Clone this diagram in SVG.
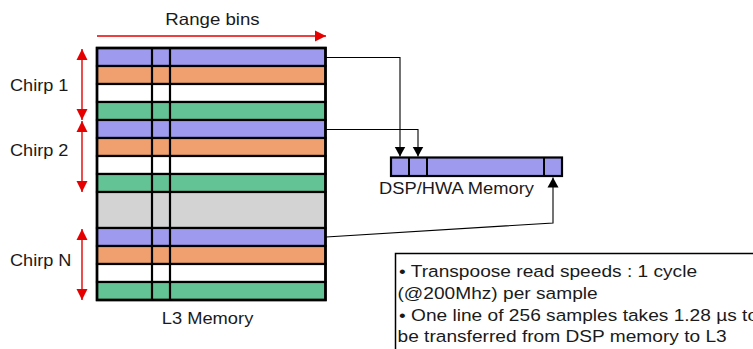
<svg xmlns="http://www.w3.org/2000/svg" width="753" height="349" viewBox="0 0 753 349">
  <style>
    .lbl { font-family: "Liberation Sans", Arial, sans-serif; font-size: 16.5px; fill: #1a1a1a; }
    .row { stroke: #000; stroke-width: 2.2; }
    .pur { fill: #9e9bef; }
    .org { fill: #efa06e; }
    .wht { fill: #ffffff; }
    .grn { fill: #64c394; }
    .gry { fill: #d3d3d3; }
    .red { stroke: #e60000; stroke-width: 1.4; fill: none; }
    .conn { stroke: #000; stroke-width: 1.1; fill: none; }
  </style>
  <defs>
    <marker id="redHead" markerUnits="userSpaceOnUse" markerWidth="12" markerHeight="12" refX="11" refY="6" orient="auto-start-reverse">
      <path d="M0,0.5 L11,6 L0,11.5 z" fill="#e60000"/>
    </marker>
    <marker id="blkHead" markerUnits="userSpaceOnUse" markerWidth="12" markerHeight="12" refX="10" refY="6" orient="auto">
      <path d="M0,0.5 L10,6 L0,11.5 z" fill="#000"/>
    </marker>
  </defs>

  <rect width="753" height="349" fill="#fff"/>

  <!-- range bins axis -->
  <g id="range-bins">
    <line class="red" x1="97" y1="36" x2="326" y2="36" marker-end="url(#redHead)"/>
    <text class="lbl" text-anchor="middle" transform="translate(212.5,25) scale(1.13,1)">Range bins</text>
  </g>

  <!-- chirp extents -->
  <g id="chirp-1">
    <line class="red" x1="82" y1="49" x2="82" y2="120" marker-start="url(#redHead)" marker-end="url(#redHead)"/>
    <text class="lbl" transform="translate(10,91) scale(1.1,1)">Chirp 1</text>
  </g>
  <g id="chirp-2">
    <line class="red" x1="82" y1="121" x2="82" y2="192" marker-start="url(#redHead)" marker-end="url(#redHead)"/>
    <text class="lbl" transform="translate(10,156) scale(1.1,1)">Chirp 2</text>
  </g>
  <g id="chirp-n">
    <line class="red" x1="82" y1="229" x2="82" y2="300" marker-start="url(#redHead)" marker-end="url(#redHead)"/>
    <text class="lbl" transform="translate(10,266) scale(1.1,1)">Chirp N</text>
  </g>

  <!-- L3 memory: one row per antenna line -->
  <g id="l3-memory">
    <rect class="row pur" x="97" y="48" width="228.5" height="18"/>
    <rect class="row org" x="97" y="66" width="228.5" height="18"/>
    <rect class="row wht" x="97" y="84" width="228.5" height="18"/>
    <rect class="row grn" x="97" y="102" width="228.5" height="18"/>
    <rect class="row pur" x="97" y="120" width="228.5" height="18"/>
    <rect class="row org" x="97" y="138" width="228.5" height="18"/>
    <rect class="row wht" x="97" y="156" width="228.5" height="18"/>
    <rect class="row grn" x="97" y="174" width="228.5" height="18"/>
    <rect class="row gry" x="97" y="192" width="228.5" height="36"/>
    <rect class="row pur" x="97" y="228" width="228.5" height="18"/>
    <rect class="row org" x="97" y="246" width="228.5" height="18"/>
    <rect class="row wht" x="97" y="264" width="228.5" height="18"/>
    <rect class="row grn" x="97" y="282" width="228.5" height="18"/>
    <line x1="152" y1="48" x2="152" y2="300" stroke="#000" stroke-width="2.2"/>
    <line x1="170" y1="48" x2="170" y2="300" stroke="#000" stroke-width="2.2"/>
    <rect x="97" y="48" width="228.5" height="252" fill="none" stroke="#000" stroke-width="2.6"/>
    <text class="lbl" text-anchor="middle" transform="translate(207.5,324) scale(1.11,1)">L3 Memory</text>
  </g>

  <!-- DSP / HWA memory line -->
  <g id="dsp-memory">
    <rect x="391" y="157.5" width="171" height="18.5" fill="#9e9bef" stroke="#000" stroke-width="2.2"/>
    <line x1="409" y1="157.5" x2="409" y2="176" stroke="#000" stroke-width="2"/>
    <line x1="427" y1="157.5" x2="427" y2="176" stroke="#000" stroke-width="2"/>
    <line x1="544" y1="157.5" x2="544" y2="176" stroke="#000" stroke-width="2"/>
    <text class="lbl" text-anchor="middle" transform="translate(456.5,194) scale(1.11,1)">DSP/HWA Memory</text>
  </g>

  <!-- transfers between the memories -->
  <g id="connectors">
    <polyline class="conn" points="326,57.5 400,57.5 400,156.5" marker-end="url(#blkHead)"/>
    <polyline class="conn" points="326,129.5 418,129.5 418,156.5" marker-end="url(#blkHead)"/>
    <polyline class="conn" points="326,237 553,223 553,177.5" marker-end="url(#blkHead)"/>
  </g>

  <!-- timing note -->
  <g id="note">
    <rect x="395.5" y="253.5" width="380" height="120" fill="#fff" stroke="#000" stroke-width="1.5"/>
    <text class="lbl" transform="translate(399,277) scale(1.16,1)">• Transpoose read speeds : 1 cycle</text>
    <text class="lbl" transform="translate(397.5,299) scale(1.16,1)">(@200Mhz) per sample</text>
    <text class="lbl" transform="translate(399,320.5) scale(1.16,1)">• One line of 256 samples takes 1.28 µs to</text>
    <text class="lbl" transform="translate(397.5,342) scale(1.16,1)">be transferred from DSP memory to L3</text>
  </g>
</svg>
